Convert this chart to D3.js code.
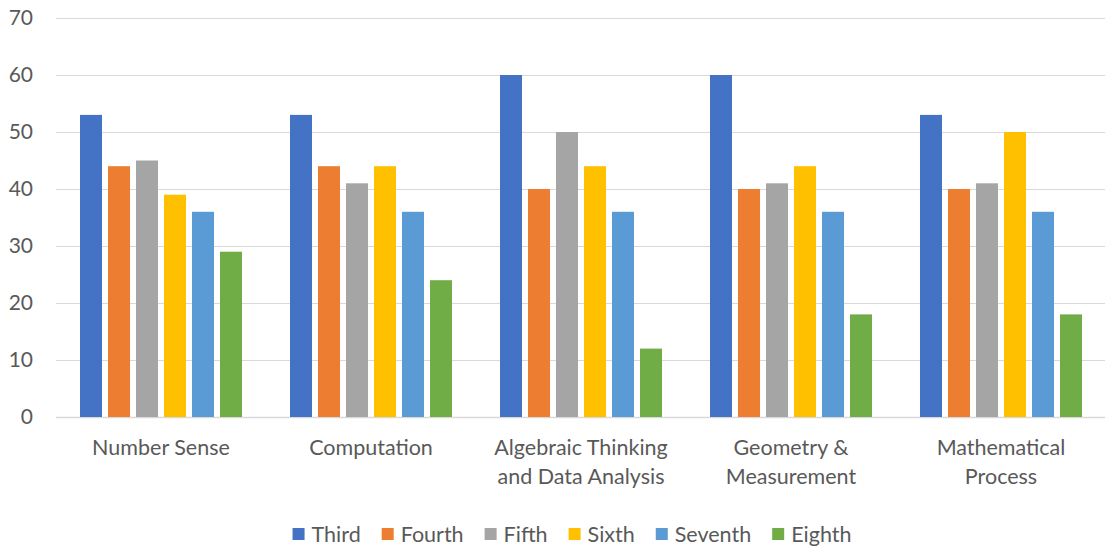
<!DOCTYPE html>
<html>
<head>
<meta charset="utf-8">
<script src="https://cdn.jsdelivr.net/npm/d3@7"></script>
<style>
  html, body { margin: 0; padding: 0; background: #fff; }
  svg { display: block; }
  text { font-family: Lato, "Open Sans", sans-serif; fill: #595959; }
</style>
</head>
<body>
<script>
// Categories (multi-line labels) and grade series
const categories = [
  ["Number Sense"],
  ["Computation"],
  ["Algebraic Thinking", "and Data Analysis"],
  ["Geometry &", "Measurement"],
  ["Mathematical", "Process"]
];
const seriesNames = ["Third", "Fourth", "Fifth", "Sixth", "Seventh", "Eighth"];
const seriesColors = ["#4472C4", "#ED7D31", "#A5A5A5", "#FFC000", "#5B9BD5", "#70AD47"];
const third   = [53, 53, 60, 60, 53];
const fourth  = [44, 44, 40, 40, 40];
const fifth   = [45, 41, 50, 41, 41];
const sixth   = [39, 44, 44, 44, 50];
const seventh = [36, 36, 36, 36, 36];
const eighth  = [29, 24, 12, 18, 18];
const yTicks  = [0, 10, 20, 30, 40, 50, 60, 70];

const seriesValues = [third, fourth, fifth, sixth, seventh, eighth];

const W = 1105, H = 550;
const plotLeft = 56, plotRight = 1106, plotTop = 18, plotBottom = 417;

const svg = d3.select("body").append("svg").attr("width", W).attr("height", H);

const x0 = d3.scaleBand().domain(d3.range(categories.length)).range([plotLeft, plotRight]).padding(0);
const x1 = d3.scaleBand().domain(seriesNames).range([0, x0.bandwidth()])
  .paddingInner(0.214).paddingOuter(0.857);
const y = d3.scaleLinear().domain([0, 70]).range([plotBottom, plotTop]);

// gridlines
svg.append("g").selectAll("line").data(yTicks).join("line")
  .attr("x1", plotLeft).attr("x2", plotRight)
  .attr("y1", d => Math.round(y(d)) + 0.5).attr("y2", d => Math.round(y(d)) + 0.5)
  .attr("stroke", "#d9d9d9").attr("stroke-width", d => d === 0 ? 1.5 : 1);

// y tick labels
svg.append("g").selectAll("text").data(yTicks).join("text")
  .attr("x", 33).attr("y", d => y(d))
  .attr("dy", "0.35em").attr("text-anchor", "end")
  .style("font-size", "21px").text(d => d);

// bars
const groups = svg.append("g").selectAll("g").data(categories).join("g")
  .attr("transform", (d, i) => `translate(${x0(i)},0)`);
groups.selectAll("rect")
  .data((d, i) => seriesNames.map((s, k) => ({ s, k, v: seriesValues[k][i] })))
  .join("rect")
  .attr("x", d => x1(d.s))
  .attr("width", x1.bandwidth())
  .attr("y", d => y(d.v))
  .attr("height", d => y(0) - y(d.v))
  .attr("fill", d => seriesColors[d.k]);

// category labels
const catLabels = svg.append("g").selectAll("text").data(categories).join("text")
  .attr("text-anchor", "middle")
  .attr("transform", (d, i) => `translate(${x0(i) + x0.bandwidth() / 2},455)`)
  .style("font-size", "21.5px");
catLabels.selectAll("tspan").data(d => d).join("tspan")
  .attr("x", 0).attr("y", (d, j) => j * 29).text(d => d);

// legend
const legend = svg.append("g");
const items = legend.selectAll("g").data(seriesNames).join("g");
items.append("rect").attr("width", 12).attr("height", 12).attr("y", -14)
  .attr("fill", (d, i) => seriesColors[i]);
items.append("text").attr("x", 19).attr("y", 0)
  .style("font-size", "21.5px").text(d => d);
let cx = 0;
items.each(function () {
  const w = this.querySelector("text").getComputedTextLength();
  d3.select(this).attr("transform", `translate(${cx},0)`);
  cx += 19 + w + 21;
});
const totalW = cx - 21;
legend.attr("transform", `translate(${572 - totalW / 2},542)`);
</script>
</body>
</html>
